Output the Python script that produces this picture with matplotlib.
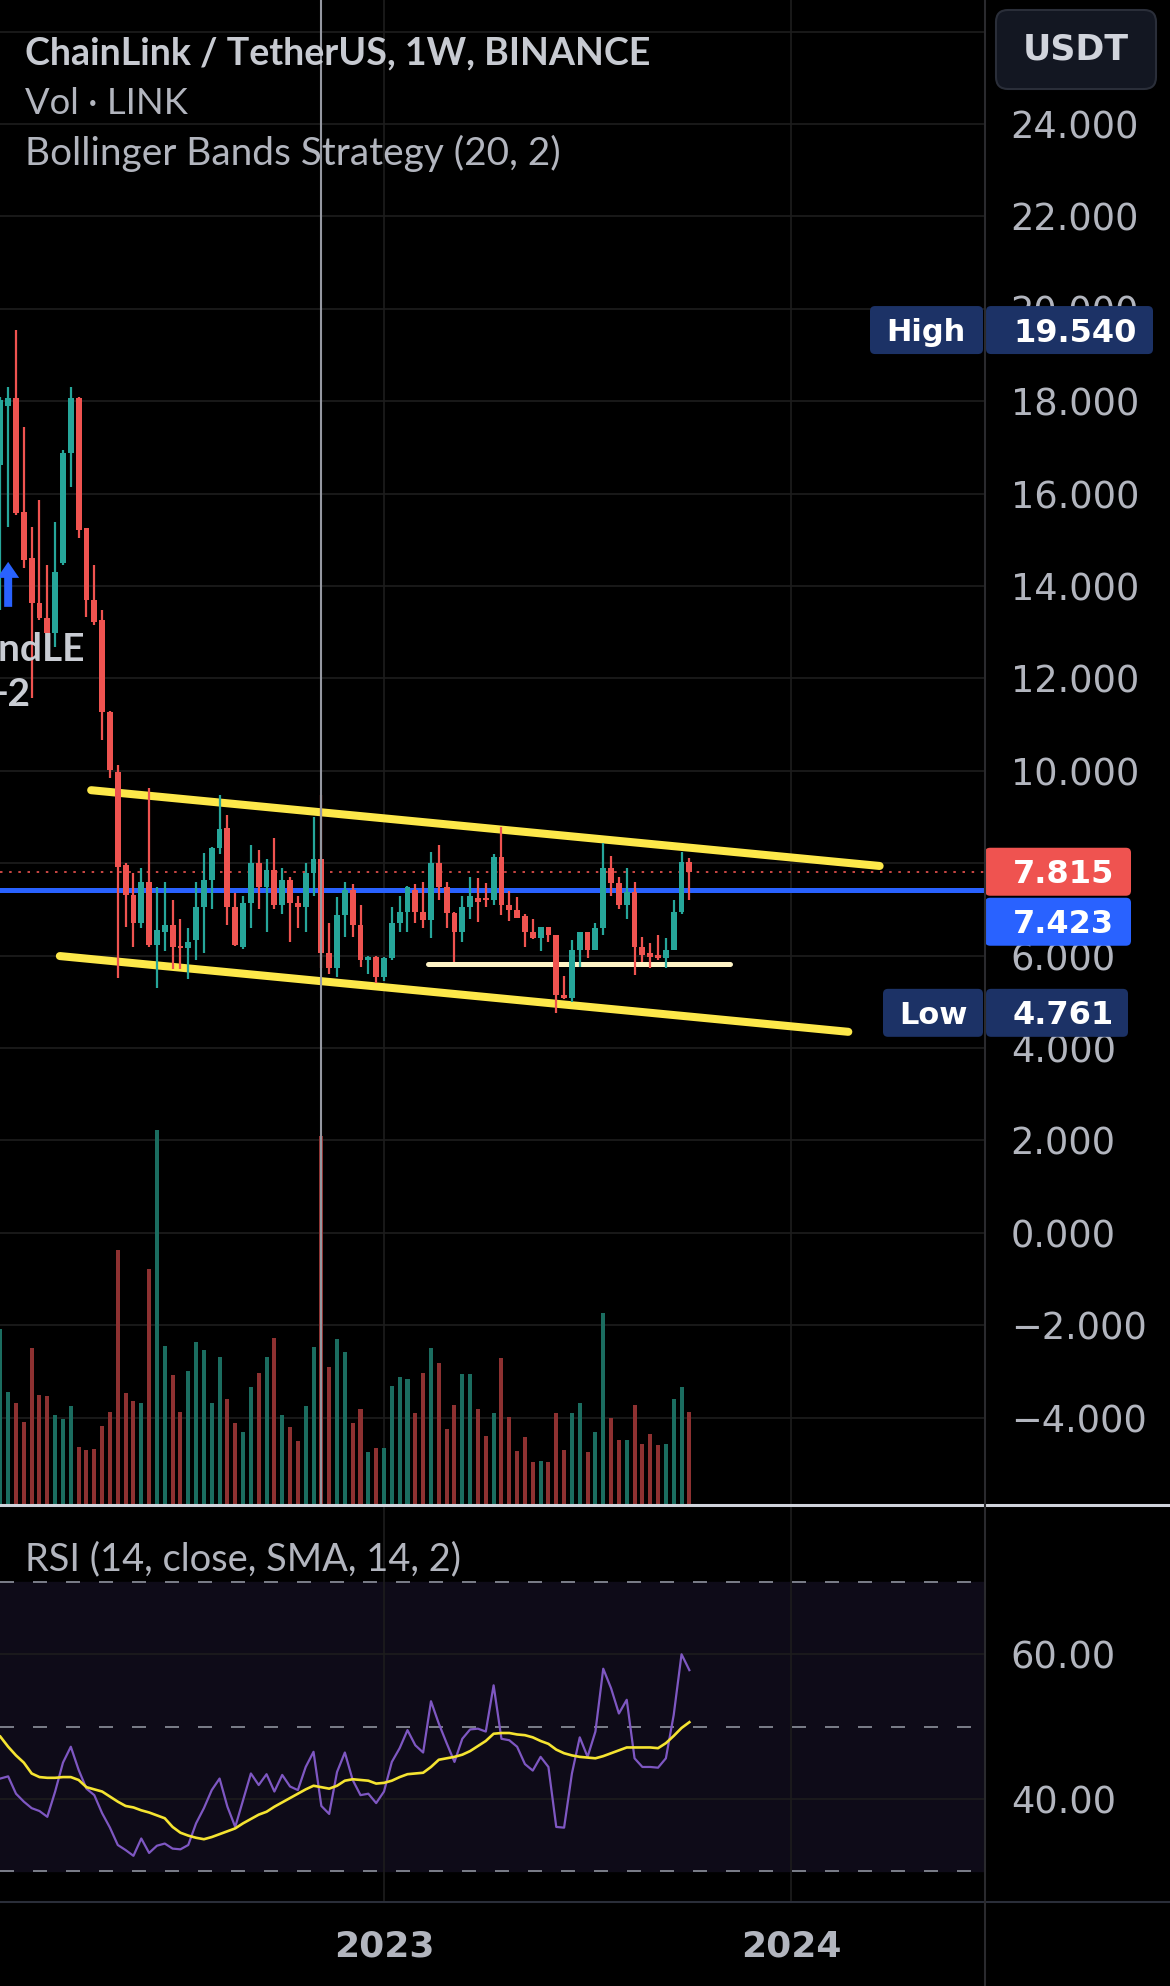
import datetime as dt
import numpy as np
import matplotlib.pyplot as plt
import matplotlib.dates as mdates
import matplotlib.transforms as mtrans
from matplotlib.patches import FancyBboxPatch, Polygon
from matplotlib.lines import Line2D
from matplotlib.ticker import FuncFormatter

W, H = 1170, 1986
plt.rcParams['font.family'] = ['DejaVu Sans']

# weekly LINK/USDT bars, first bar = week of 2022-01-24
first_week = dt.date(2022, 1, 24)

opens = [16.62, 17.90, 18.07, 15.60, 14.61, 13.63, 13.31, 12.98, 14.50, 16.88,
         18.07, 15.26, 13.70, 13.26, 11.27, 9.97, 7.96, 7.31, 6.71, 7.59,
         6.23, 6.50, 6.66, 6.19, 6.16, 6.34, 7.05, 7.64, 8.33, 8.76,
         7.05, 6.19, 7.14, 8.00, 7.49, 7.85, 7.10, 7.64, 7.14, 7.05,
         7.79, 8.10, 6.06, 5.73, 6.88, 7.42, 6.66, 5.90, 5.97, 5.54,
         5.95, 6.71, 6.94, 7.42, 6.94, 6.77, 8.00, 7.49, 6.92, 6.51,
         7.05, 7.25, 7.25, 7.20, 8.13, 7.10, 6.99, 6.85, 6.51, 6.38,
         6.62, 6.45, 5.15, 5.09, 6.12, 6.51, 6.12, 6.60, 7.90, 7.57,
         7.10, 7.38, 6.19, 6.06, 6.01, 5.95, 6.12, 6.94, 8.03]
highs = [18.09, 18.31, 19.54, 17.44, 15.28, 15.86, 14.45, 15.39, 16.95, 18.31,
         18.10, 15.26, 14.45, 13.48, 11.30, 10.13, 8.00, 7.79, 7.90, 9.63,
         7.49, 7.60, 7.20, 6.80, 6.60, 7.60, 8.22, 8.35, 9.48, 9.04,
         7.35, 7.30, 8.40, 8.29, 8.10, 8.55, 7.90, 7.70, 7.30, 8.00,
         9.00, 9.48, 6.70, 7.27, 7.60, 7.55, 7.10, 6.00, 6.00, 5.97,
         7.05, 7.30, 7.50, 7.55, 7.60, 8.24, 8.39, 7.60, 6.95, 7.30,
         7.70, 7.68, 7.57, 8.20, 8.78, 7.40, 7.27, 6.90, 6.80, 6.62,
         6.62, 6.45, 5.55, 6.34, 6.51, 6.51, 6.70, 8.44, 8.15, 7.70,
         7.90, 7.59, 6.40, 6.27, 6.45, 6.38, 7.20, 8.24, 8.11]
lows = [13.48, 15.28, 15.54, 14.39, 11.58, 13.26, 12.95, 12.68, 14.45, 16.14,
        15.04, 13.33, 13.16, 10.67, 9.84, 5.52, 6.62, 6.19, 6.60, 6.19,
        5.30, 6.10, 5.70, 5.70, 5.50, 5.90, 6.06, 7.00, 8.20, 6.66,
        6.20, 6.15, 6.60, 7.00, 6.51, 7.00, 6.90, 6.30, 6.60, 6.50,
        7.30, 5.73, 5.60, 5.54, 6.40, 6.40, 5.76, 5.60, 5.41, 5.45,
        5.90, 6.50, 6.50, 6.70, 6.60, 6.38, 7.20, 6.60, 5.86, 6.30,
        6.80, 6.73, 7.05, 7.10, 6.88, 6.75, 6.81, 6.19, 6.35, 6.10,
        6.30, 4.761, 5.05, 5.00, 5.75, 5.95, 6.12, 6.45, 7.30, 7.00,
        6.80, 5.58, 5.86, 5.73, 5.90, 5.73, 6.12, 6.90, 7.20]
closes = [18.03, 18.07, 15.58, 14.56, 13.63, 13.31, 12.98, 14.30, 16.88, 18.07,
          15.21, 13.70, 13.22, 11.27, 10.02, 7.92, 7.31, 6.71, 7.59, 6.23,
          6.55, 6.66, 6.19, 6.16, 6.30, 7.05, 7.64, 8.33, 8.74, 7.05,
          6.23, 7.14, 8.00, 7.49, 7.85, 7.10, 7.64, 7.14, 7.05, 7.79,
          8.10, 6.06, 5.73, 6.88, 7.42, 6.66, 5.90, 5.97, 5.54, 5.95,
          6.71, 6.94, 7.49, 6.94, 6.77, 8.00, 7.49, 6.92, 6.51, 7.05,
          7.30, 7.16, 7.20, 8.13, 7.10, 6.99, 6.81, 6.51, 6.38, 6.62,
          6.45, 5.15, 5.09, 6.12, 6.51, 6.12, 6.60, 7.90, 7.57, 7.10,
          7.38, 6.19, 6.01, 5.97, 5.95, 6.12, 6.94, 8.03, 7.815]
# volume, millions of LINK
volume = [17.6, 11.3, 10.2, 8.3, 15.7, 11.0, 10.9, 9.0, 8.6, 9.9,
          5.8, 5.5, 5.6, 7.9, 9.3, 25.5, 11.2, 10.4, 10.2, 23.6,
          37.5, 15.9, 13.0, 9.3, 13.4, 16.3, 15.5, 10.2, 14.8, 10.6,
          8.2, 7.3, 11.8, 13.2, 14.8, 16.7, 9.0, 7.8, 6.4, 9.9,
          15.8, 36.9, 13.8, 16.6, 15.3, 8.2, 9.6, 5.3, 5.7, 5.7,
          11.9, 12.8, 12.6, 9.2, 13.2, 15.7, 14.2, 7.6, 10.0, 13.1,
          13.1, 9.6, 6.9, 9.2, 14.7, 8.8, 5.4, 6.8, 4.3, 4.4,
          4.3, 9.2, 5.5, 9.2, 10.2, 5.3, 7.3, 19.2, 8.7, 6.5,
          6.5, 10.0, 6.1, 7.1, 6.0, 6.1, 10.6, 11.8, 9.3]
rsi = [42.8, 43.1, 40.7, 39.6, 38.7, 38.3, 37.5, 41.0, 45.0, 47.2,
       44.0, 41.4, 40.5, 38.0, 36.0, 33.6, 32.9, 32.1, 34.5, 32.5,
       33.5, 33.8, 33.1, 33.0, 33.6, 36.6, 38.7, 41.2, 42.8, 38.9,
       36.1, 39.8, 43.5, 41.9, 43.4, 41.0, 43.3, 41.7, 41.2, 44.4,
       46.5, 39.0, 37.9, 43.7, 46.4, 42.6, 40.5, 40.7, 39.4, 41.0,
       45.1, 47.0, 49.5, 47.4, 46.4, 53.5, 50.4, 47.7, 45.1, 48.3,
       49.6, 49.7, 49.3, 55.7, 48.3, 48.1, 47.2, 44.8, 43.9, 45.8,
       44.4, 36.1, 36.0, 43.5, 48.5, 45.8, 49.3, 58.0, 55.3, 51.8,
       53.7, 45.6, 44.4, 44.4, 44.3, 45.6, 51.6, 60.0, 57.8]
rsi_ma = [48.6, 47.2, 46.0, 45.0, 43.5, 43.0, 42.9, 42.9, 43.0, 43.0,
          42.6, 41.6, 41.3, 41.0, 40.3, 39.6, 39.0, 38.8, 38.4, 38.1,
          37.7, 37.3, 36.1, 35.3, 34.9, 34.6, 34.4, 34.7, 35.1, 35.5,
          35.9, 36.6, 37.2, 37.8, 38.2, 38.9, 39.5, 40.1, 40.7, 41.3,
          41.8, 41.6, 41.4, 41.8, 42.5, 42.7, 42.6, 42.5, 42.1, 42.2,
          42.5, 43.0, 43.4, 43.5, 43.6, 44.4, 45.4, 45.6, 45.8, 46.1,
          46.6, 47.3, 48.0, 49.0, 49.1, 49.1, 48.9, 48.8, 48.5, 48.0,
          47.6, 46.8, 46.3, 46.0, 45.8, 45.7, 45.6, 45.9, 46.3, 46.7,
          47.1, 47.1, 47.1, 47.1, 47.0, 47.7, 48.7, 49.8, 50.6]

avg_price = 7.423          # blue position line
signal_bar = 1             # BBandLE entry
cursor_bar = 41            # crosshair (week of 2022-11-07)

# hand drawn lines: (weeks from first bar, price)
upper_wk, upper_px = [11.6, 112.3], [9.58, 7.94]
lower_wk, lower_px = [7.6, 108.3], [5.99, 4.35]
support_wk, support_px = [54.6, 93.2], [5.82, 5.82]

UP, DN = '#26a69a', '#ef5350'
VUP, VDN = '#1b6d60', '#8e3131'
TXT = '#b2b5be'

o, h, l, c = map(np.array, (opens, highs, lows, closes))
x0 = mdates.date2num(first_week)
x = x0 + 7 * np.arange(len(c))
wk = lambda w: x0 + 7 * np.array(w)
up = c >= o

fig = plt.figure(figsize=(W / 100, H / 100), dpi=100, facecolor='black')
ax = fig.add_axes([0, 481 / H, 985 / W, 1505 / H], facecolor='black')
axv = ax.twinx()   # volume overlay; twinx moves ax ticks left, so set ticks afterwards
ax.set_xlim(x0 - 0.3, x0 + 880.3)
ax.set_ylim(-5.892, 26.684)
for s in list(ax.spines.values()) + list(axv.spines.values()):
    s.set_visible(False)

years = mdates.date2num([dt.date(2023, 1, 2), dt.date(2024, 1, 1)])
ax.set_xticks(years)
ax.set_yticks(np.arange(-4, 27, 2))
ax.yaxis.tick_right()
ax.yaxis.set_major_formatter(FuncFormatter(lambda v, p: f'{v:.3f}'.replace('-', '\u2212')))
ax.tick_params(axis='x', bottom=False, labelbottom=False)
ax.tick_params(axis='y', left=False, right=False, labelleft=False, labelright=True,
               pad=15, labelsize=26.5, labelcolor=TXT)
ax.grid(color='#1d1d1d', lw=1.2)
ax.set_axisbelow(True)

# price lines and drawings (under the candles)
ax.axhline(avg_price, color='#2962ff', lw=3.6, zorder=2)
ax.axhline(c[-1], color=DN, lw=1.2, ls=(0, (1.5, 4)), zorder=2)
ax.plot(wk(upper_wk), upper_px, color='#fde84a', lw=5.8, solid_capstyle='round', zorder=2)
ax.plot(wk(lower_wk), lower_px, color='#fde84a', lw=5.8, solid_capstyle='round', zorder=2)
ax.plot(wk(support_wk), support_px, color='#fff4c6', lw=3.6, solid_capstyle='round', zorder=2)

# candles
col = np.where(up, UP, DN)
ax.vlines(x, l, h, colors=col, lw=1.6, zorder=3)
ax.bar(x, np.maximum(np.abs(c - o), 0.04), bottom=np.minimum(o, c), width=5.2, color=col, zorder=4)

# volume
axv.set_ylim(0, 150.5)
axv.set_yticks([])
axv.bar(x, volume, width=3.6, color=np.where(up, VUP, VDN), zorder=2)
axv.axvline(x[cursor_bar], color='#9598a1', lw=1.5, zorder=5)

# RSI pane
axr = fig.add_axes([0, 84 / H, 985 / W, 397 / H], facecolor='black')
axr.set_xlim(ax.get_xlim())
axr.set_ylim(25.71, 80.66)
for s in axr.spines.values():
    s.set_visible(False)
axr.axhspan(30, 70, color='#0e0b18', zorder=0.2)
for lv in (70, 50, 30):
    axr.axhline(lv, color='#787b86', lw=1.44, ls=(0, (7, 9.5)), zorder=1)
axr.plot(x, rsi, color='#7e57c2', lw=1.6, zorder=3)
axr.plot(x, rsi_ma, color='#f5e431', lw=1.9, zorder=4)
axr.set_yticks([40, 60])
axr.yaxis.tick_right()
axr.yaxis.set_major_formatter(FuncFormatter(lambda v, p: f'{v:.2f}'))
axr.set_xticks(years)
axr.set_xticklabels(['2023', '2024'], fontweight='bold')
axr.tick_params(axis='y', left=False, right=False, labelleft=False, labelright=True,
                pad=15, labelsize=26.5, labelcolor=TXT)
axr.tick_params(axis='x', bottom=False, pad=16, labelsize=26, labelcolor=TXT)
axr.grid(color='#1d1d1d', lw=1.2)
axr.set_axisbelow(True)

# pane separators
fig.add_artist(Line2D([0, 1], [481 / H] * 2, color='#d1d4dc', lw=2.2))
fig.add_artist(Line2D([0, 1], [84 / H] * 2, color='#2a2e39', lw=1.5))
fig.add_artist(Line2D([985 / W] * 2, [0, 1], color='#2a2a2e', lw=1.5))

PIX = mtrans.IdentityTransform()


def ypix(price):
    return ax.transData.transform((x0, price))[1]


def box(x_a, x_b, yc, color, text, tx, ha='left', size=23):
    fig.add_artist(FancyBboxPatch((x_a, yc - 24), x_b - x_a, 48, transform=PIX,
                                  boxstyle='round,pad=0,rounding_size=5', fc=color, ec='none'))
    fig.text(tx, yc - 0.729 * size * 100 / 72 / 2, text, transform=PIX, ha=ha, va='baseline',
             color='white', fontsize=size, fontweight='bold')


NAVY = '#1c3266'
yh = ypix(max(highs))
box(870, 983, yh, NAVY, 'High', 926, ha='center', size=22)
box(986, 1153, yh, NAVY, f'{max(highs):.3f}', 1013)
yl = ypix(min(lows))
box(883, 983, yl, NAVY, 'Low', 933, ha='center', size=22)
box(986, 1128, yl, NAVY, f'{min(lows):.3f}', 1013)
yc_last = ypix(c[-1])
box(985, 1131, yc_last, DN, f'{c[-1]:.3f}', 1013)
box(985, 1131, yc_last - 50, '#2962ff', f'{avg_price:.3f}', 1013)

# currency button
fig.add_artist(FancyBboxPatch((996, H - 89), 160, 79, transform=PIX,
                              boxstyle='round,pad=0,rounding_size=12', fc='#131722', ec='#2a2e39', lw=1.5))
fig.text(1076, H - 50, 'USDT', transform=PIX, ha='center', va='center', color='#d1d4dc',
         fontsize=25, fontweight='semibold')

# strategy entry marker
sx, sy = ax.transData.transform((x[signal_bar], l[signal_bar]))
arrow = [(sx, sy - 35), (sx + 11, sy - 51), (sx + 4, sy - 51), (sx + 4, sy - 80),
         (sx - 4, sy - 80), (sx - 4, sy - 51), (sx - 11, sy - 51)]
fig.add_artist(Polygon(arrow, closed=True, transform=PIX, fc='#2962ff', ec='none'))
fig.text(sx + 77, sy - 123, 'BBandLE', transform=PIX, ha='right', va='center',
         color='#c9ccd3', fontsize=28, fontweight='bold', family='Lato')
fig.text(sx + 22, sy - 168, '+2', transform=PIX, ha='right', va='center',
         color='#c9ccd3', fontsize=28, fontweight='bold', family='Lato')

# legend
legend = [('ChainLink / TetherUS, 1W, BINANCE', 64, 'bold', 628, '#c7cad1'),
          ('Vol \u00b7 LINK', 114, 'normal', 162, TXT),
          ('Bollinger Bands Strategy (20, 2)', 165, 'normal', 536, TXT),
          ('RSI (14, close, SMA, 14, 2)', 1570, 'normal', 437, TXT)]
r = fig.canvas.get_renderer()
for s, yb, wt, wpx, colr in legend:
    t = fig.text(25, H - yb, s, transform=PIX, va='baseline', fontsize=25,
                 fontweight=wt, color=colr, family='Lato')
    t.set_fontsize(25 * wpx / t.get_window_extent(renderer=r).width)

fig.savefig('out.png', dpi=100, facecolor='black')
